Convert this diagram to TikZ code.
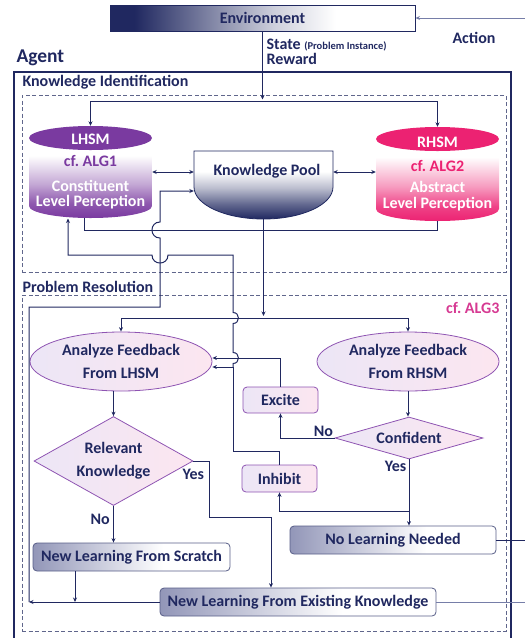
\documentclass[tikz,border=0pt]{standalone}
\usepackage{fontspec}
\setmainfont{Carlito}
\usetikzlibrary{shapes.geometric,arrows.meta,calc}
\definecolor{navy}{RGB}{32,40,96}
\definecolor{lightline}{RGB}{118,126,168}
\definecolor{lhsmc}{RGB}{122,58,160}
\definecolor{rhsmc}{RGB}{236,34,114}
\definecolor{algpink}{RGB}{214,58,146}
\definecolor{lav}{RGB}{236,230,246}
\definecolor{pinkf}{RGB}{252,230,240}
\definecolor{purpb}{RGB}{142,84,178}
\definecolor{boxl}{RGB}{146,150,184}
\definecolor{dashc}{RGB}{96,102,140}
\pgfdeclarehorizontalshading{envshade}{100bp}{color(0bp)=(navy); color(29bp)=(navy); color(42bp)=(navy!55); color(52bp)=(navy!22); color(62bp)=(white); color(100bp)=(white)}
\pgfdeclarehorizontalshading{outshade}{100bp}{color(0bp)=(boxl); color(25bp)=(boxl); color(58bp)=(white); color(100bp)=(white)}
\pgfdeclareverticalshading{lhsmshade}{100bp}{color(0bp)=(lhsmc); color(25bp)=(lhsmc); color(34bp)=(lhsmc!85); color(46bp)=(lhsmc!45); color(64bp)=(white); color(100bp)=(white)}
\pgfdeclareverticalshading{rhsmshade}{100bp}{color(0bp)=(rhsmc); color(25bp)=(rhsmc); color(34bp)=(rhsmc!85); color(46bp)=(rhsmc!45); color(64bp)=(white); color(100bp)=(white)}
\pgfdeclareverticalshading{kpshade}{100bp}{color(0bp)=(navy); color(25bp)=(navy); color(36bp)=(navy!70); color(48bp)=(navy!30); color(60bp)=(white); color(100bp)=(white)}
\begin{document}
\begin{tikzpicture}[x=1pt,y=-1pt,
  every node/.style={font=\bfseries\fontsize{16}{18}\selectfont, text=navy},
  conn/.style={draw=navy,line width=1pt},
  lconn/.style={draw=lightline,line width=1pt},
  arr/.style={conn,-{Stealth[length=4.5pt,width=4pt]}},
  darr/.style={conn,{Stealth[length=4.5pt,width=4pt]}-{Stealth[length=4.5pt,width=4pt]}},
  fb/.style={ellipse,draw=purpb,line width=0.8pt,left color=lav,right color=pinkf,inner sep=0pt,minimum width=182pt,minimum height=59pt,align=center,font=\bfseries\fontsize{16}{23}\selectfont},
  dec/.style={diamond,draw=purpb,line width=0.8pt,left color=lav,right color=pinkf,inner sep=0pt,align=center},
  sig/.style={rectangle,rounded corners=4pt,draw=purpb,line width=0.8pt,left color=lav,right color=pinkf,minimum width=75pt,minimum height=26pt,inner sep=0pt},
  outc/.style={rectangle,rounded corners=4pt,draw=navy!75,line width=0.8pt,shade,shading=outshade,minimum height=28pt,inner sep=0pt},
  region/.style={draw=dashc,dash pattern=on 4pt off 2.5pt,line width=0.9pt,inner sep=0pt},
  cyl/.style={font=\bfseries\fontsize{16}{15}\selectfont,align=center},
]
\useasboundingbox (0,0) rectangle (525,638);

% outer agent frame and regions
\draw[navy,line width=2.2pt] (14,640) -- (14,72) -- (511,72) -- (511,640);
\node[region,minimum width=484pt,minimum height=177pt] (ki) at (264,183.5) {};
\node[region,minimum width=484pt,minimum height=336pt] (pr) at (264,463) {};

% labels
\node[anchor=west,font=\bfseries\fontsize{19.5}{22}\selectfont] (agentlbl) at (13,58) {Agent};
\node[anchor=west] (statelbl) at (263,45) {State {\fontsize{10.5}{11}\selectfont (Problem Instance)}};
\node[anchor=west] (rewardlbl) at (263,59) {Reward};
\node (actionlbl) at (474,38) {Action};
\node[anchor=west] (kilbl) at (19,82) {Knowledge Identification};
\node[anchor=west] (prlbl) at (19,287) {Problem Resolution};
\node[anchor=east,text=algpink] (alg3) at (503,308) {cf.\ ALG3};

% environment
\node[draw=navy,line width=1pt,shade,shading=envshade,minimum width=305pt,minimum height=26pt,inner sep=0pt] (env) at (262.5,18) {Environment};

% LHSM cylinder
\shade[shading=lhsmshade] (29,138) -- (29,206) .. controls (29,212.63) and (56.53,218) .. (90.5,218) .. controls (124.47,218) and (152,212.63) .. (152,206) -- (152,138) -- cycle;
\fill[lhsmc] (90.5,138) ellipse [x radius=61.5pt, y radius=12pt];
\node[inner sep=0pt,minimum width=123pt,minimum height=92pt] (lhsm) at (90.5,172) {};
\node[cyl,text=white] (lhsmT) at (90.5,139) {LHSM};
\node[cyl,text=lhsmc] (lhsmA) at (90.5,161) {cf.\ ALG1};
\node[cyl,text=white] (lhsmP) at (90.5,195) {Constituent\\Level Perception};

% RHSM cylinder
\shade[shading=rhsmshade] (376,139) -- (376,209) .. controls (376,215.63) and (403.53,221) .. (437.5,221) .. controls (471.47,221) and (499,215.63) .. (499,209) -- (499,139) -- cycle;
\fill[rhsmc] (437.5,139) ellipse [x radius=61.5pt, y radius=12pt];
\node[inner sep=0pt,minimum width=123pt,minimum height=94pt] (rhsm) at (437.5,174) {};
\node[cyl,text=white] (rhsmT) at (437.5,142) {RHSM};
\node[cyl,text=rhsmc] (rhsmA) at (437.5,166) {cf.\ ALG2};
\node[cyl,text=white,font=\bfseries\fontsize{16}{16}\selectfont] (rhsmP) at (437.5,196) {Abstract\\Level Perception};

% Knowledge pool
\path[shade,shading=kpshade,draw=navy,line width=0.8pt] (194,151) -- (194,187) .. controls (194,204.7) and (225.1,219) .. (263.5,219) .. controls (301.9,219) and (333,204.7) .. (333,187) -- (333,151) -- cycle;
\node[inner sep=0pt,minimum width=139pt,minimum height=68pt] (kp) at (263.5,185) {};
\node (kpT) at (267,171) {Knowledge Pool};

% problem resolution nodes
\node[fb] (afl) at (121,361.5) {Analyze Feedback\\From LHSM};
\node[fb] (afr) at (408,361.5) {Analyze Feedback\\From RHSM};
\node[dec,aspect=1.8,minimum width=159pt,minimum height=89pt,font=\bfseries\fontsize{16}{23}\selectfont] (rk) at (113.5,461) {Relevant\\Knowledge};
\node[dec,aspect=3.5,minimum width=148pt,minimum height=42pt] (conf) at (409,438) {Confident};
\node[sig] (excite) at (280.5,400) {Excite};
\node[sig,minimum height=27pt] (inhibit) at (279.5,478.5) {Inhibit};
\node[outc,minimum width=197pt] (nlfs) at (131.5,557) {New Learning From Scratch};
\node[outc,minimum width=276pt] (nlek) at (298,602) {New Learning From Existing Knowledge};
\node[outc,minimum width=206pt] (nln) at (393,540) {No Learning Needed};

% coordinates
\coordinate (kiTop) at (262.5,101);
\coordinate (split) at (263.5,318);
\coordinate (cornerBL) at (29,602);
\coordinate (kpInLow) at (160,307);
\coordinate (actIn) at (525,18);
\coordinate (outR1) at (525,540);
\coordinate (outR2) at (525,602);

% environment <-> agent
\draw[arr,draw=lightline] (actIn) -- (env.east);
\draw[arr] (env.south) -- ([yshift=1.5pt]kiTop);
\draw[conn] (lhsm.north |- kiTop) -- (rhsm.north |- kiTop);
\draw[arr] (lhsm.north |- kiTop) -- (lhsm.north);
\draw[arr] (rhsm.north |- kiTop) -- (rhsm.north);

% knowledge identification links
\draw[darr] (lhsm.east) -- (lhsm.east -| kp.west);
\draw[darr] (lhsm.east -| kp.east) -- (lhsm.east -| rhsm.west);
\draw[conn] ([xshift=-6.5pt]lhsm.south) -- ++(0,12) -| (rhsm.south);
\draw[arr] (kp.south) -- ([yshift=2pt]split);
\draw[conn] (afl.north |- split) -- (afr.north |- split);
\draw[arr] (afl.north |- split) -- (afl.north);
\draw[arr] (afr.north |- split) -- (afr.north);

% LHSM side
\draw[arr] (afl.south -| rk.north) -- (rk.north);
\draw[arr] (rk.south) -- (rk.south |- nlfs.north) node[pos=0.37,left] (noA) {No};
\draw[arr] (rk.east) -- ++(16,0) -- ++(0,56) -| ([xshift=-27pt]nlek.north);
\node[anchor=north west,inner sep=1pt] (yesA) at ([shift={(-12,7)}]rk.east) {Yes};

% RHSM side
\draw[arr] (afr.south) -- (afr.south |- conf.north);
\draw[arr] (conf.west) -| (excite.south);
\node[anchor=south east,inner sep=1.5pt] (noB) at (conf.west) {No};
\draw[arr] (conf.south) -- (conf.south |- nln.north);
\node[anchor=north east,inner sep=1.5pt] (yesB) at ([xshift=-1pt]conf.south) {Yes};
\draw[arr] ([yshift=-52pt]conf.south) -| (inhibit.south);

% excite -> analyze feedback LHSM
\draw[arr] (excite.north) |- ([yshift=3.5pt]afl.east);

% inhibit -> analyze feedback LHSM and LHSM
\draw[conn] (inhibit.north) -- ++(0,-13) -| (233,367);
\draw[arr] (233,367) -- ([yshift=-5.5pt]afl.east);
\draw[arr] (233,367) -- (233,363.5) .. controls (240.3,363.5) and (240.3,352.5) .. (233,352.5)
  -- (233,323.5) .. controls (240.3,323.5) and (240.3,312.5) .. (233,312.5)
  -- (233,255) -- (168,255) .. controls (168,265.7) and (152,265.7) .. (152,255)
  -- (68,255) -- (68,218.5);

% new learning -> knowledge pool
\draw[arr] ([xshift=-56.5pt]nlfs.south) -- ([xshift=-56.5pt]nlfs.south |- cornerBL);
\draw[arr] (nlek.west) -- (cornerBL);
\draw[arr] (cornerBL) |- (kpInLow) -- (160,238) .. controls (149.3,238) and (149.3,222) .. (160,222)
  -- (160,191) -- ([yshift=-6pt]kp.west);

% outputs to environment
\draw[conn] (nln.east) -- (outR1);
\draw[lconn] (nlek.east) -- (outR2);
\end{tikzpicture}
\end{document}
